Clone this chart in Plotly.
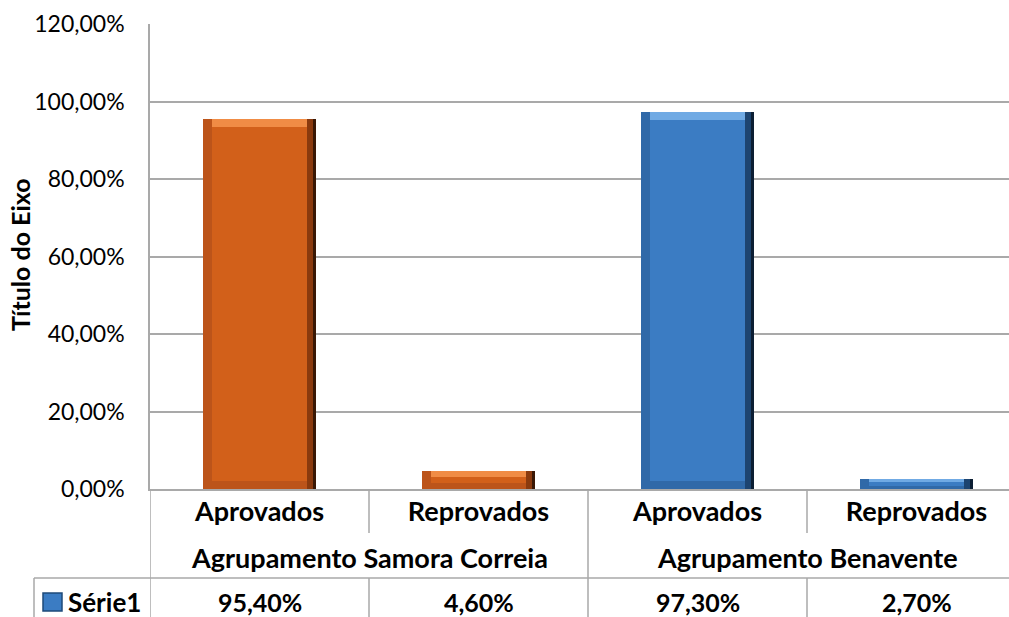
import plotly.graph_objects as go

# ---- data ----
categories = ["Aprovados", "Reprovados", "Aprovados", "Reprovados"]
groups = ["Agrupamento Samora Correia", "Agrupamento Benavente"]
group_positions = [0.5, 2.5]
values = [0.954, 0.046, 0.973, 0.027]
value_labels = ["95,40%", "4,60%", "97,30%", "2,70%"]
series_name = "Série1"
y_title = "Título do Eixo"

# ---- styles ----
FONT = "Lato"
face = ["#D2601A", "#D2601A", "#3B7CC3", "#3B7CC3"]
light = ["#F08C45", "#F08C45", "#70AAE4", "#70AAE4"]
leftc = ["#BC541A", "#BC541A", "#3069A8", "#3069A8"]
rightmid = ["#8A3A0E", "#8A3A0E", "#1D4470", "#1D4470"]
dark = ["#3A1805", "#3A1805", "#0C1E33", "#0C1E33"]
GRID = "#A9A9A9"
W = 0.516      # bar width (category units)
B = 0.04       # bevel width (category units)
H = 0.021      # bevel height (value units)

x = list(range(len(categories)))
hb = [min(H, v / 3) for v in values]

fig = go.Figure()
common = dict(hoverinfo="skip", showlegend=False)
fig.add_bar(x=x, y=values, width=W, marker=dict(color=dark, line=dict(width=0)), **common)
fig.add_bar(x=x, y=values, width=W - B * 0.35, offset=-W / 2,
            marker=dict(color=rightmid, line=dict(width=0)), **common)
fig.add_bar(x=x, y=values, width=W - B, offset=-W / 2,
            marker=dict(color=leftc, line=dict(width=0)), **common)
fig.add_bar(x=x, y=hb, base=[v - h for v, h in zip(values, hb)], width=W - 2 * B,
            offset=-W / 2 + B, marker=dict(color=light, line=dict(width=0)), **common)
fig.add_bar(x=x, y=[v - 2 * h for v, h in zip(values, hb)], base=hb, width=W - 2 * B,
            offset=-W / 2 + B, marker=dict(color=face, line=dict(width=0)),
            name=series_name, showlegend=False)

PLOT_TOP, PLOT_BOT = 24, 489
PH = PLOT_BOT - PLOT_TOP
def py(p):
    return (PLOT_BOT - p) / PH
PLOT_LEFT, PLOT_RIGHT = 150, 1009
PW = PLOT_RIGHT - PLOT_LEFT
def px(p):
    return (p - PLOT_LEFT) / PW

cat_px = 219.0
x_max = -0.5 + PW / cat_px

shapes = []
line = dict(color=GRID, width=1.5)
for b in [0.5, 2.5]:
    shapes.append(dict(type="line", xref="x", yref="paper", x0=b, x1=b,
                       y0=0, y1=py(533), line=line))
    shapes.append(dict(type="line", xref="x", yref="paper", x0=b, x1=b,
                       y0=py(578), y1=py(620), line=line))
for b in [-0.5, 1.5]:
    shapes.append(dict(type="line", xref="x", yref="paper", x0=b, x1=b,
                       y0=0, y1=py(620), line=line))
shapes.append(dict(type="line", xref="paper", yref="paper", x0=px(34), x1=1.0,
                   y0=py(578), y1=py(578), line=line))
shapes.append(dict(type="line", xref="paper", yref="paper", x0=px(34), x1=px(34),
                   y0=py(578), y1=py(620), line=line))
shapes.append(dict(type="rect", xref="paper", yref="paper", x0=px(43), x1=px(62),
                   y0=py(611), y1=py(593), fillcolor="#3B7CC3",
                   line=dict(color="#1E4A7A", width=1.5)))

annotations = []
for g, gp in zip(groups, group_positions):
    annotations.append(dict(text=g, x=gp, xref="x", y=py(557), yref="paper",
                            showarrow=False, xanchor="center", yanchor="middle",
                            font=dict(family=FONT, size=27, color="black", weight="bold")))
for xi, lab in zip(x, value_labels):
    annotations.append(dict(text=lab, x=xi, xref="x", y=py(602), yref="paper",
                            showarrow=False, xanchor="center", yanchor="middle",
                            font=dict(family=FONT, size=25, color="black", weight="bold")))
annotations.append(dict(text=series_name, x=px(66), xref="paper", y=py(602), yref="paper",
                        showarrow=False, xanchor="left", yanchor="middle",
                        font=dict(family=FONT, size=26, color="black", weight="bold")))
annotations.append(dict(text=y_title, x=px(20), xref="paper", y=py(255), yref="paper",
                        showarrow=False, textangle=-90, xanchor="center", yanchor="middle",
                        font=dict(family=FONT, size=25, color="black", weight="bold")))

fig.update_layout(
    width=1009, height=617,
    margin=dict(l=PLOT_LEFT, r=1009 - PLOT_RIGHT, t=PLOT_TOP, b=617 - PLOT_BOT),
    paper_bgcolor="white", plot_bgcolor="white",
    barmode="overlay", bargap=0,
    separators=", ",
    showlegend=False,
    shapes=shapes, annotations=annotations,
    font=dict(family=FONT, color="black"),
)
fig.update_xaxes(
    range=[-0.5, x_max], tickvals=x, ticktext=categories,
    tickfont=dict(family=FONT, size=27, color="black", weight="bold"),
    showline=True, linecolor=GRID, linewidth=1.5, showgrid=False, zeroline=False,
    ticks="", ticklabelstandoff=-2,
)
fig.update_yaxes(
    range=[0, 1.2], tickvals=[0, 0.2, 0.4, 0.6, 0.8, 1.0, 1.2], tickformat=".2%",
    tickfont=dict(family=FONT, size=23, color="black"),
    showline=True, linecolor=GRID, linewidth=1.5,
    showgrid=True, gridcolor=GRID, gridwidth=1.5, zeroline=False,
    ticks="", ticklabelstandoff=19,
)

fig.write_html(
    "out.html",
    config={"displayModeBar": False},
    post_script="document.body.style.margin='0';document.body.style.overflow='hidden';",
)
